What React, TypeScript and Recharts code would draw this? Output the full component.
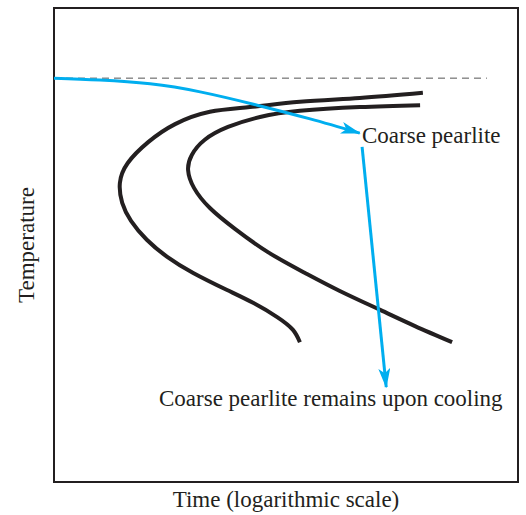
import { LineChart, Line, XAxis, YAxis, ReferenceArea } from 'recharts';

// Axes are unitless: time 0-100 (log scale in the original), temperature 0-100.
const eutectoidTemp = 85.2;
const eutectoidLine = [
  { x: 0, y: eutectoidTemp },
  { x: 93.3, y: eutectoidTemp },
];

// Transformation start curve (outer C)
const startCurve = [
  { x: 79.5, y: 82.1 },
  { x: 65.9, y: 81.0 },
  { x: 53.0, y: 80.2 },
  { x: 42.2, y: 79.1 },
  { x: 33.6, y: 78.1 },
  { x: 26.1, y: 75.5 },
  { x: 20.3, y: 71.7 },
  { x: 15.9, y: 67.3 },
  { x: 14.2, y: 63.1 },
  { x: 14.7, y: 58.9 },
  { x: 16.6, y: 55.1 },
  { x: 20.0, y: 51.1 },
  { x: 24.4, y: 47.5 },
  { x: 30.0, y: 44.1 },
  { x: 37.3, y: 40.5 },
  { x: 42.9, y: 37.8 },
  { x: 48.1, y: 34.8 },
  { x: 51.5, y: 32.1 },
  { x: 53.0, y: 29.5 },
];

// Transformation finish curve (inner C)
const finishCurve = [
  { x: 78.9, y: 79.5 },
  { x: 65.9, y: 79.1 },
  { x: 53.0, y: 78.3 },
  { x: 44.4, y: 77.0 },
  { x: 37.5, y: 74.9 },
  { x: 32.5, y: 72.2 },
  { x: 29.7, y: 69.0 },
  { x: 28.9, y: 65.8 },
  { x: 30.2, y: 62.0 },
  { x: 33.6, y: 57.8 },
  { x: 39.0, y: 53.4 },
  { x: 46.1, y: 48.5 },
  { x: 54.1, y: 44.1 },
  { x: 61.6, y: 40.3 },
  { x: 70.3, y: 36.3 },
  { x: 77.8, y: 32.9 },
  { x: 85.8, y: 29.5 },
];

// Cooling path: slow cool into the nose region, then quench
const coolingPath = [
  { x: 0, y: 85.2 },
  { x: 9.9, y: 84.8 },
  { x: 20.7, y: 84.0 },
  { x: 31.5, y: 82.3 },
  { x: 43.8, y: 79.5 },
  { x: 55.2, y: 76.6 },
  { x: 65.9, y: 73.6 },
];
const coolingDrop = [
  { x: 66.4, y: 70.7 },
  { x: 71.6, y: 20.0 },
];

const INK = '#231f20';
const BLUE = '#00aeef';
const FONT = '"Liberation Serif", "Times New Roman", serif';

export default function App() {
  return (
    <div style={{ position: 'absolute', left: 0, top: 0, background: '#fff' }}>
      <LineChart
        width={526}
        height={515}
        margin={{ top: 8, right: 8, bottom: 33, left: 54 }}
      >
        <defs>
          <marker
            id="blueArrow"
            viewBox="0 0 20 12"
            refX="19"
            refY="6"
            markerWidth="20"
            markerHeight="12"
            markerUnits="userSpaceOnUse"
            orient="auto"
          >
            <path d="M0,0 L20,6 L0,12 L5,6 Z" fill={BLUE} />
          </marker>
        </defs>
        <XAxis type="number" dataKey="x" domain={[0, 100]} hide />
        <YAxis type="number" dataKey="y" domain={[0, 100]} hide />
        <ReferenceArea
          x1={0}
          x2={100}
          y1={0}
          y2={100}
          fill="none"
          fillOpacity={0}
          stroke={INK}
          strokeWidth={2}
        />
        <Line
          data={eutectoidLine}
          dataKey="y"
          type="linear"
          stroke="#555"
          strokeWidth={1}
          strokeDasharray="7 5"
          dot={false}
          activeDot={false}
          isAnimationActive={false}
        />
        <Line
          data={startCurve}
          dataKey="y"
          type="natural"
          stroke={INK}
          strokeWidth={4}
          dot={false}
          activeDot={false}
          isAnimationActive={false}
        />
        <Line
          data={finishCurve}
          dataKey="y"
          type="natural"
          stroke={INK}
          strokeWidth={4}
          dot={false}
          activeDot={false}
          isAnimationActive={false}
        />
        <Line
          data={coolingPath}
          dataKey="y"
          type="natural"
          stroke={BLUE}
          strokeWidth={3}
          dot={false}
          activeDot={false}
          markerEnd="url(#blueArrow)"
          isAnimationActive={false}
        />
        <Line
          data={coolingDrop}
          dataKey="y"
          type="linear"
          stroke={BLUE}
          strokeWidth={3}
          dot={false}
          activeDot={false}
          markerEnd="url(#blueArrow)"
          isAnimationActive={false}
        />
        <text x={362} y={143} fontFamily={FONT} fontSize={23} fill={INK}>
          Coarse pearlite
        </text>
        <text x={159} y={406} fontFamily={FONT} fontSize={23} fill={INK}>
          Coarse pearlite remains upon cooling
        </text>
        <text
          x={286}
          y={507}
          textAnchor="middle"
          fontFamily={FONT}
          fontSize={23}
          fill={INK}
        >
          Time (logarithmic scale)
        </text>
        <text
          x={34}
          y={245}
          textAnchor="middle"
          transform="rotate(-90 34 245)"
          fontFamily={FONT}
          fontSize={23}
          fill={INK}
        >
          Temperature
        </text>
      </LineChart>
    </div>
  );
}
